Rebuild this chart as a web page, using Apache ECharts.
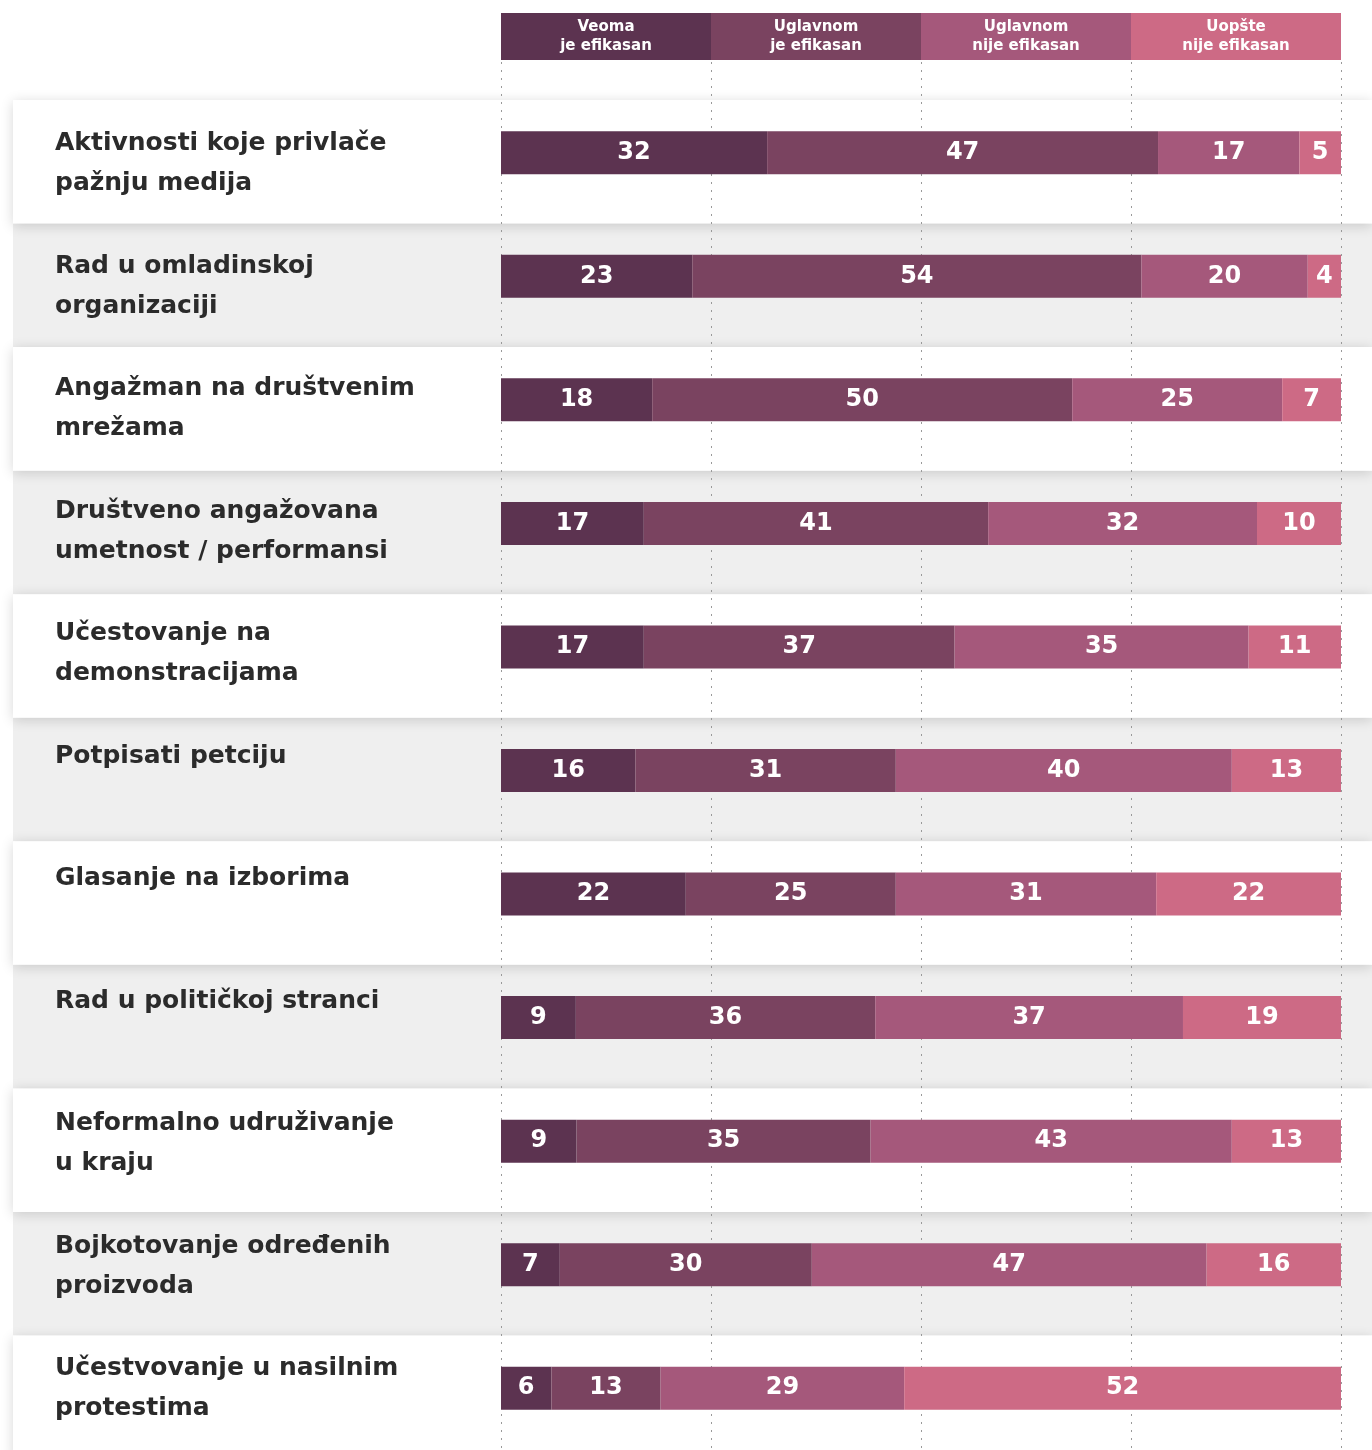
<!DOCTYPE html>
<html>
<head>
<meta charset="utf-8">
<title>Efikasnost aktivnosti</title>
<script src="https://cdn.jsdelivr.net/npm/echarts@6/dist/echarts.min.js"></script>
<style>
  html, body { margin: 0; padding: 0; background: #fff; }
  #chart { width: 1372px; height: 1450px; }
</style>
</head>
<body>
<div id="chart"></div>
<script>
// kategorije (redovi)
const categories = [
  'Aktivnosti koje privlače\npažnju medija',
  'Rad u omladinskoj\norganizaciji',
  'Angažman na društvenim\nmrežama',
  'Društveno angažovana\numetnost / performansi',
  'Učestovanje na\ndemonstracijama',
  'Potpisati petciju',
  'Glasanje na izborima',
  'Rad u političkoj stranci',
  'Neformalno udruživanje\nu kraju',
  'Bojkotovanje određenih\nproizvoda',
  'Učestvovanje u nasilnim\nprotestima'
];

const seriesNames = ['Veoma\nje efikasan', 'Uglavnom\nje efikasan', 'Uglavnom\nnije efikasan', 'Uopšte\nnije efikasan'];
const colors = ['#5c3350', '#7a4360', '#a5587b', '#cd6a85'];

// vrednosti u %
const veoma = [32, 23, 18, 17, 17, 16, 22, 9, 9, 7, 6];
const uglavnomJe = [47, 54, 50, 41, 37, 31, 25, 36, 35, 30, 13];
const uglavnomNije = [17, 20, 25, 32, 35, 40, 31, 37, 43, 47, 29];
const uopste = [5, 4, 7, 10, 11, 13, 22, 19, 13, 16, 52];

const ticks = [0, 25, 50, 75, 100];

const allSeries = [veoma, uglavnomJe, uglavnomNije, uopste];
const rowSums = categories.map((c, i) => allSeries.reduce((s, arr) => s + arr[i], 0));

// layout
const ROW_TOP = 100;
const ROW_H = 123.55;
const PLOT_LEFT = 501;
const PLOT_RIGHT = 31;
const PLOT_W = 1372 - PLOT_LEFT - PLOT_RIGHT;
const FONT = 'DejaVu Sans';

const chart = echarts.init(document.getElementById('chart'));

// pozadina redova: sivi prvo, beli sa senkom preko
const graphics = [];
categories.forEach((c, i) => {
  if (i % 2 === 1) {
    graphics.push({
      type: 'rect', z: -10,
      shape: { x: 13, y: ROW_TOP + i * ROW_H, width: 1372 - 13, height: ROW_H },
      style: { fill: '#efefef' }
    });
  }
});
categories.forEach((c, i) => {
  if (i % 2 === 0) {
    graphics.push({
      type: 'rect', z: -9,
      shape: { x: 13, y: ROW_TOP + i * ROW_H, width: 1372 - 13, height: ROW_H },
      style: { fill: '#ffffff', shadowBlur: 12, shadowColor: 'rgba(0,0,0,0.16)', shadowOffsetY: 2 }
    });
  }
});
// zaglavlje / legenda
seriesNames.forEach((name, k) => {
  const w = PLOT_W / seriesNames.length;
  graphics.push({
    type: 'rect', z: 5,
    shape: { x: PLOT_LEFT + k * w, y: 13, width: w, height: 47 },
    style: { fill: colors[k] }
  });
  graphics.push({
    type: 'text', z: 6,
    x: PLOT_LEFT + k * w + w / 2, y: 36.5,
    style: {
      text: name, fill: '#fff', font: 'bold 15px "' + FONT + '"',
      align: 'center', verticalAlign: 'middle', lineHeight: 19
    }
  });
});

const option = {
  animation: false,
  backgroundColor: '#fff',
  graphic: graphics,
  grid: [
    // bars
    { left: PLOT_LEFT, right: PLOT_RIGHT, top: 91, height: categories.length * ROW_H },
    // dotted lines
    { left: PLOT_LEFT, right: PLOT_RIGHT, top: 62, bottom: 0 },
    // row labels
    { left: PLOT_LEFT, right: PLOT_RIGHT, top: 102.5, height: categories.length * ROW_H }
  ],
  xAxis: [
    { gridIndex: 0, type: 'value', min: 0, max: 100, show: false },
    {
      gridIndex: 1, type: 'value', min: ticks[0], max: ticks[ticks.length - 1], interval: 25,
      axisLine: { show: false }, axisTick: { show: false }, axisLabel: { show: false },
      splitLine: { show: true, lineStyle: { color: '#9a9a9a', width: 1, type: [2, 6] } }
    },
    { gridIndex: 2, type: 'value', min: 0, max: 100, show: false }
  ],
  yAxis: [
    { gridIndex: 0, type: 'category', inverse: true, data: categories, show: false },
    { gridIndex: 1, type: 'value', show: false },
    {
      gridIndex: 2, type: 'category', inverse: true, data: categories,
      axisLine: { show: false }, axisTick: { show: false }, splitLine: { show: false },
      axisLabel: {
        align: 'left', margin: PLOT_LEFT - 55,
        fontFamily: FONT, fontWeight: 'bold', fontSize: 25,
        color: '#2b2b2b', lineHeight: 40,
        formatter: (v) => v.indexOf('\n') < 0 ? v + '\n ' : v
      }
    }
  ],
  series: allSeries.map((arr, k) => ({
    name: seriesNames[k],
    type: 'bar',
    stack: 'ukupno',
    xAxisIndex: 0,
    yAxisIndex: 0,
    barWidth: 43,
    itemStyle: { color: colors[k] },
    label: {
      show: true, position: 'inside', color: '#fff',
      fontFamily: FONT, fontWeight: 'bold', fontSize: 24,
      formatter: (p) => arr[p.dataIndex]
    },
    data: arr.map((v, i) => v / rowSums[i] * 100)
  }))
};

chart.setOption(option);
</script>
</body>
</html>
